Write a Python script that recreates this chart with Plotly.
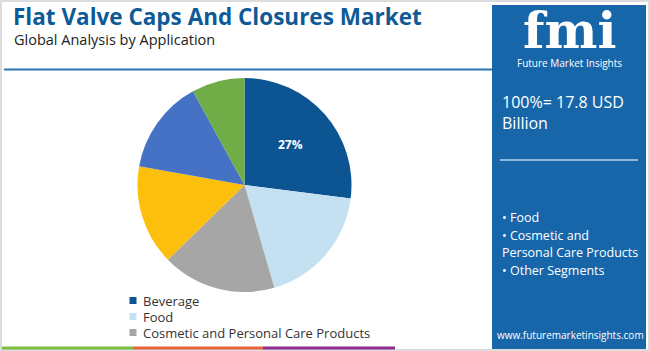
import plotly.graph_objects as go

# ---- data ----
labels = ["Beverage", "Food", "Cosmetic and Personal Care Products",
          "Pharmaceuticals", "Household Products", "Other Segments"]
values = [27.0, 18.5, 17.2, 15.1, 14.2, 8.0]
colors = ["#0d5592", "#c4e1f2", "#a6a6a6", "#fdbf0e", "#4572c4", "#70ad47"]
legend_labels = labels[:3]
title_text = "Flat Valve Caps And Closures Market"
subtitle_text = "Global Analysis by Application"
total_text = "100%= 17.8 USD<br>Billion"
panel_items = ["• Food", "• Cosmetic and", "Personal Care Products", "• Other Segments"]

W, H = 650, 351
def px(x): return x / W
def py(y): return 1 - y / H

slice_text = [f"{v:.0f}%" if i == 0 else "" for i, v in enumerate(values)]

cx, cy, r = 244.5, 185, 107
fig = go.Figure(go.Pie(
    labels=labels, values=values, sort=False, direction="clockwise", rotation=0,
    marker=dict(colors=colors, line=dict(width=0)),
    text=slice_text, textinfo="text", textposition="inside",
    insidetextorientation="horizontal",
    textfont=dict(color="white", size=12, family="Open Sans", weight="bold"),
    showlegend=False, hoverinfo="label+percent",
    domain=dict(x=[px(cx - r), px(cx + r)], y=[py(cy + r), py(cy - r)]),
))

shapes = []
ann = []
# page border
shapes.append(dict(type="rect", xref="paper", yref="paper", x0=px(1), x1=px(649), y0=py(350), y1=py(1),
                   line=dict(color="#dcdcdc", width=2), fillcolor="rgba(0,0,0,0)", layer="below"))
# right panel
shapes.append(dict(type="rect", xref="paper", yref="paper", x0=px(492), x1=px(646), y0=py(349), y1=py(5),
                   line=dict(width=0), fillcolor="#1766a9", layer="below"))
# header line
shapes.append(dict(type="line", xref="paper", yref="paper", x0=px(4), x1=px(492), y0=py(69.5), y1=py(69.5),
                   line=dict(color="#2a76b5", width=2)))
# panel separator
shapes.append(dict(type="line", xref="paper", yref="paper", x0=px(500), x1=px(638), y0=py(160), y1=py(160),
                   line=dict(color="#b9d3ea", width=1.5)))
# bottom color bar
for x0, x1, c in [(2, 133, "#7dbb42"), (133, 263, "#e8623a"), (263, 395, "#8d2d8e")]:
    shapes.append(dict(type="line", xref="paper", yref="paper", x0=px(x0), x1=px(x1), y0=py(348), y1=py(348),
                       line=dict(color=c, width=3)))

# legend (manual, cropped as in reference)
for i, lab in enumerate(legend_labels):
    yc = 300.5 + i * 16
    shapes.append(dict(type="rect", xref="paper", yref="paper", x0=px(129.5), x1=px(136.5),
                       y0=py(yc + 3.5), y1=py(yc - 3.5), line=dict(width=0), fillcolor=colors[i]))
    ann.append(dict(text=lab, x=px(141), y=py(yc), xref="paper", yref="paper", xanchor="left",
                    yanchor="middle", showarrow=False,
                    font=dict(size=13, color="#333333", family="Open Sans")))

# titles
ann.append(dict(text=f"<b>{title_text}</b>", x=px(11), y=py(17), xref="paper", yref="paper",
                xanchor="left", yanchor="middle", showarrow=False,
                font=dict(size=22.5, color="#0e5a96", family="Open Sans")))
ann.append(dict(text=subtitle_text, x=px(12), y=py(39), xref="paper", yref="paper",
                xanchor="left", yanchor="middle", showarrow=False,
                font=dict(size=14.5, color="#222222", family="Open Sans")))

# logo
ann.append(dict(text="<b>fmi</b>", x=px(569), y=py(31), xref="paper", yref="paper",
                xanchor="center", yanchor="middle", showarrow=False,
                font=dict(size=50, color="white", family="DejaVu Serif")))
ann.append(dict(text="Future Market Insights", x=px(569), y=py(63), xref="paper", yref="paper",
                xanchor="center", yanchor="middle", showarrow=False,
                font=dict(size=10, color="white", family="Open Sans")))

# panel texts
ann.append(dict(text=total_text, x=px(500), y=py(112), xref="paper", yref="paper",
                xanchor="left", yanchor="middle", showarrow=False, align="left",
                font=dict(size=16, color="white", family="Open Sans")))
for i, t in enumerate(panel_items):
    ann.append(dict(text=t, x=px(500), y=py(217.5 + i * 17.5), xref="paper", yref="paper",
                    xanchor="left", yanchor="middle", showarrow=False,
                    font=dict(size=12.5, color="white", family="Open Sans")))
ann.append(dict(text="www.futuremarketinsights.com", x=px(570), y=py(335), xref="paper", yref="paper",
                xanchor="center", yanchor="middle", showarrow=False,
                font=dict(size=10, color="white", family="Open Sans")))

fig.update_layout(width=W, height=H, margin=dict(l=0, r=0, t=0, b=0),
                  paper_bgcolor="white", plot_bgcolor="white",
                  shapes=shapes, annotations=ann)
fig.write_html("out.html")
